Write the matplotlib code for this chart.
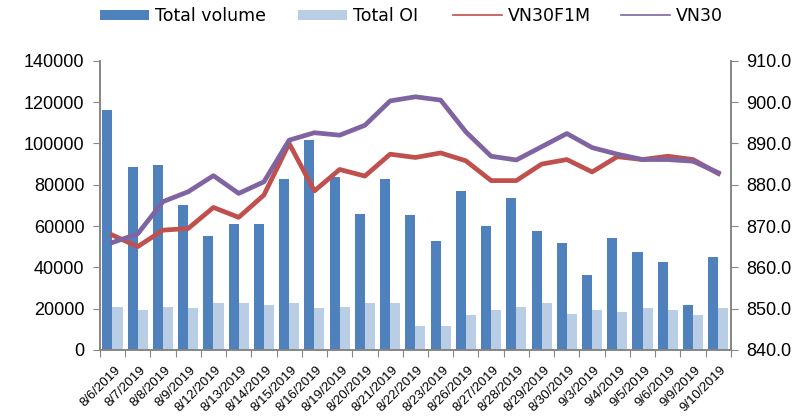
import matplotlib
matplotlib.use("Agg")
import matplotlib.pyplot as plt
import matplotlib.transforms as mtransforms
import numpy as np

plt.rcParams["font.family"] = ["Liberation Sans", "DejaVu Sans"]

# ---- data --------------------------------------------------------------------
dates = ["8/6/2019", "8/7/2019", "8/8/2019", "8/9/2019", "8/12/2019", "8/13/2019",
         "8/14/2019", "8/15/2019", "8/16/2019", "8/19/2019", "8/20/2019", "8/21/2019",
         "8/22/2019", "8/23/2019", "8/26/2019", "8/27/2019", "8/28/2019", "8/29/2019",
         "8/30/2019", "9/3/2019", "9/4/2019", "9/5/2019", "9/6/2019", "9/9/2019",
         "9/10/2019"]
total_volume = [116100, 88700, 89700, 70200, 55200, 61000, 61000, 82900, 101500,
                83700, 65800, 82900, 65200, 52600, 76900, 60000, 73600, 57600,
                51600, 36400, 54000, 47300, 42400, 21800, 44900]
total_oi = [20800, 19400, 20800, 20300, 22700, 22700, 21800, 22700, 20300, 20800,
            22700, 22700, 11600, 11600, 16900, 19400, 20800, 22700, 17400, 19400,
            18400, 20300, 19400, 16900, 20300]
vn30f1m = [867.8, 865.0, 869.0, 869.4, 874.5, 872.1, 877.5, 890.0, 878.5, 883.7,
           882.1, 887.4, 886.6, 887.7, 885.8, 881.0, 881.0, 885.0, 886.1, 883.1,
           886.8, 886.1, 886.9, 886.1, 882.7]
vn30 = [866.0, 868.1, 875.9, 878.3, 882.2, 877.9, 880.7, 890.8, 892.6, 892.0,
        894.4, 900.3, 901.3, 900.5, 892.8, 886.9, 886.0, 889.2, 892.4, 889.0,
        887.4, 886.1, 886.1, 885.7, 882.9]

C_VOL, C_OI, C_F1M, C_VN30 = "#4F81BD", "#B9CDE5", "#C0504D", "#8064A2"
SPINE = "#868686"

fig = plt.figure(figsize=(8.05, 4.17), dpi=100)
ax = fig.add_axes([0.124, 0.161, 0.784, 0.693])
ax2 = ax.twinx()

x = np.arange(len(dates))
w = 0.4
b1 = ax.bar(x - w / 2, total_volume, w, color=C_VOL, label="Total volume")
b2 = ax.bar(x + w / 2, total_oi, w, color=C_OI, label="Total OI")
l1, = ax2.plot(x, vn30f1m, color=C_F1M, lw=3.4, label="VN30F1M")
l2, = ax2.plot(x, vn30, color=C_VN30, lw=3.4, label="VN30")

ax.set_xlim(-0.5, len(dates) - 0.5)
ax.set_ylim(0, 140000)
ax.set_yticks(range(0, 140001, 20000))
ax2.set_ylim(840, 910)
ax2.set_yticks(np.arange(840, 910.1, 10))
ax2.set_yticklabels([f"{v:.1f}" for v in np.arange(840, 910.1, 10)])

# category boundaries get the tick marks, labels sit at category centres
ax.set_xticks(np.arange(len(dates) + 1) - 0.5)
ax.set_xticklabels([])
ax.set_xticks(x, minor=True)
ax.set_xticklabels(dates, minor=True, rotation=45, ha="right", va="center",
                   rotation_mode="anchor", fontsize=9.5)
ax.tick_params(axis="x", which="minor", length=0, pad=13)
ax.tick_params(axis="x", which="major", length=5, color=SPINE)
shift = mtransforms.ScaledTranslation(6 / 100, 0, fig.dpi_scale_trans)
for lab in ax.get_xticklabels(minor=True):
    lab.set_transform(lab.get_transform() + shift)

for a in (ax, ax2):
    a.spines["top"].set_visible(False)
    for s in ("left", "right", "bottom"):
        a.spines[s].set_color(SPINE)
        a.spines[s].set_linewidth(1.2)
    a.tick_params(axis="y", labelsize=13, length=5, color=SPINE, pad=6)

# one legend entry per box so each sits where the reference has it
handles = [b1, b2, l1, l2]
names = ["Total volume", "Total OI", "VN30F1M", "VN30"]
leg_x = [100, 298, 453, 621]
for h, name, lx in zip(handles, names, leg_x):
    leg = fig.legend([h], [name], loc="upper left",
                     bbox_to_anchor=(lx / 805, 1 - 7 / 417),
                     frameon=False, borderpad=0, borderaxespad=0,
                     prop={"family": "DejaVu Sans", "size": 12.5},
                     handlelength=2.8, handleheight=0.55, handletextpad=0.35)
    for line in leg.get_lines():
        line.set_linewidth(1.2)

fig.savefig("out.png", dpi=100)
